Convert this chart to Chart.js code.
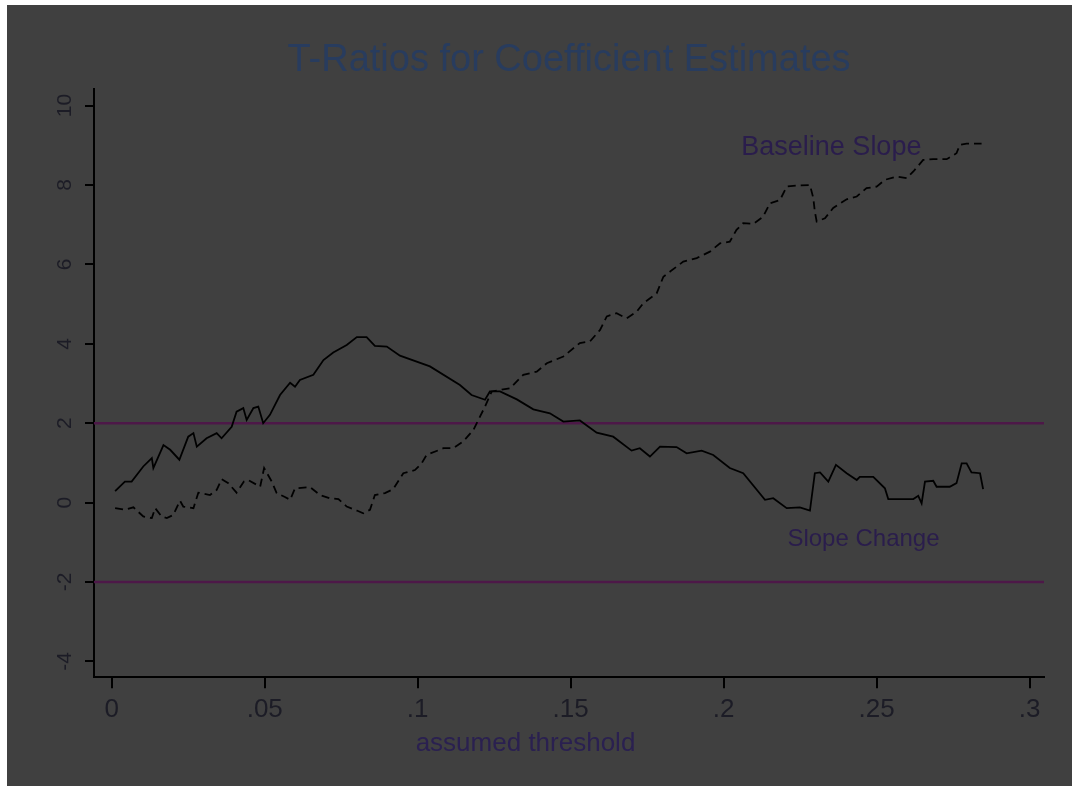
<!DOCTYPE html>
<html>
<head>
<meta charset="utf-8">
<title>T-Ratios for Coefficient Estimates</title>
<script src="https://cdn.jsdelivr.net/npm/chart.js@4.4.1/dist/chart.umd.min.js"></script>
<style>
  html, body { margin: 0; padding: 0; background: #fff; overflow: hidden; }
  #wrap { position: absolute; left: 7px; top: 5px; width: 1065px; height: 781px; background: #404040; }
  canvas { display: block; }
</style>
</head>
<body>
<div id="wrap"><canvas id="chart" width="1065" height="781"></canvas></div>
<script>
const chartTitle = "T-Ratios for Coefficient Estimates";
const xAxisTitle = "assumed threshold";

// axis ticks
const xTickValues = [0, 0.05, 0.1, 0.15, 0.2, 0.25, 0.3];
const xTickLabels = ["0", ".05", ".1", ".15", ".2", ".25", ".3"];
const yTickValues = [-4, -2, 0, 2, 4, 6, 8, 10];
const yTickLabels = ["-4", "-2", "0", "2", "4", "6", "8", "10"];
const xMin = -0.0058, xMax = 0.3047;
const yMin = -4.40, yMax = 10.41;

// critical t-ratio bands
const refLevels = [2, -2];

// Slope Change (solid)
const slopeChangeX = [
  .0011, .0043, .0065, .0103, .0131, .0136, .0169, .0191, .0221, .0250,
  .0267, .0278, .0310, .0343, .0359, .0392, .0408, .0430, .0441, .0463,
  .0479, .0495, .0517, .0550, .0583, .0599, .0615, .0659, .0692, .0724,
  .0768, .0801, .0833, .0860, .0899, .0942, .1040, .1138, .1176, .1220,
  .1236, .1269, .1324, .1378, .1432, .1476, .1530, .1585, .1639, .1699,
  .1726, .1759, .1792, .1846, .1879, .1928, .1966, .2020, .2064, .2135,
  .2162, .2206, .2249, .2282, .2298, .2315, .2342, .2367, .2402, .2435,
  .2445, .2489, .2527, .2538, .2620, .2636, .2647, .2658, .2685, .2696,
  .2739, .2761, .2778, .2794, .2810, .2838, .2848
];
const slopeChangeT = [
  0.29, 0.53, 0.53, 0.91, 1.12, 0.87, 1.45, 1.33, 1.08, 1.66,
  1.75, 1.41, 1.62, 1.75, 1.62, 1.91, 2.29, 2.38, 2.08, 2.38,
  2.42, 2.00, 2.21, 2.71, 3.02, 2.92, 3.09, 3.22, 3.59, 3.78,
  3.97, 4.17, 4.17, 3.95, 3.93, 3.70, 3.43, 2.96, 2.71, 2.59,
  2.80, 2.80, 2.60, 2.35, 2.25, 2.04, 2.07, 1.76, 1.66, 1.31,
  1.37, 1.16, 1.41, 1.40, 1.24, 1.31, 1.20, 0.87, 0.74, 0.07,
  0.11, -0.14, -0.12, -0.20, 0.74, 0.76, 0.53, 0.95, 0.74, 0.57,
  0.65, 0.65, 0.36, 0.09, 0.09, 0.17, -0.02, 0.53, 0.55, 0.40,
  0.40, 0.49, 0.99, 0.99, 0.76, 0.74, 0.34
];

// Baseline Slope (dashed)
const baselineX = [
  .0011, .0043, .0071, .0103, .0131, .0142, .0163, .0180, .0201, .0223,
  .0234, .0267, .0283, .0321, .0343, .0359, .0381, .0408, .0432, .0446,
  .0485, .0498, .0523, .0539, .0566, .0583, .0599, .0648, .0681, .0713,
  .0741, .0768, .0801, .0822, .0844, .0860, .0893, .0920, .0953, .0991,
  .1013, .1029, .1084, .1116, .1149, .1182, .1204, .1220, .1242, .1302,
  .1345, .1389, .1422, .1476, .1530, .1563, .1596, .1618, .1650, .1683,
  .1716, .1737, .1781, .1803, .1825, .1868, .1912, .1955, .1988, .2020,
  .2042, .2064, .2097, .2129, .2151, .2184, .2206, .2227, .2282, .2293,
  .2298, .2304, .2331, .2358, .2402, .2435, .2467, .2500, .2527, .2565,
  .2598, .2620, .2652, .2685, .2729, .2761, .2772, .2794, .2843
];
const baselineT = [
  -0.14, -0.18, -0.12, -0.35, -0.39, -0.14, -0.35, -0.39, -0.31, 0.05,
  -0.10, -0.14, 0.25, 0.19, 0.32, 0.59, 0.49, 0.25, 0.53, 0.57,
  0.40, 0.87, 0.53, 0.24, 0.14, 0.07, 0.36, 0.39, 0.19, 0.11,
  0.09, -0.10, -0.20, -0.27, -0.18, 0.19, 0.24, 0.34, 0.74, 0.82,
  0.99, 1.20, 1.37, 1.37, 1.54, 1.83, 2.17, 2.42, 2.80, 2.88,
  3.22, 3.30, 3.51, 3.68, 4.02, 4.06, 4.35, 4.69, 4.77, 4.64,
  4.81, 5.02, 5.27, 5.69, 5.82, 6.07, 6.16, 6.32, 6.53, 6.57,
  6.87, 7.04, 7.02, 7.20, 7.54, 7.62, 7.96, 7.98, 8.00, 7.67,
  7.33, 7.08, 7.16, 7.42, 7.64, 7.71, 7.92, 7.96, 8.13, 8.21,
  8.17, 8.34, 8.63, 8.65, 8.65, 8.80, 9.01, 9.04, 9.04
];

// in-plot series labels
const seriesLabels = ["Baseline Slope", "Slope Change"];
const seriesLabelX = [0.2352, 0.2457];
const seriesLabelY = [8.76, -1.09];
const seriesLabelSize = [27, 24];

const FONT = 'Arial, "Liberation Sans", sans-serif';
const toPoints = (xs, ys) => xs.map((x, i) => ({ x: x, y: ys[i] }));

// draws the two curve labels at data coordinates
const seriesLabelPlugin = {
  id: "seriesLabels",
  afterDatasetsDraw(chart) {
    const { ctx, scales: { x, y } } = chart;
    ctx.save();
    ctx.fillStyle = "#2a1d4c";
    ctx.textAlign = "center";
    ctx.textBaseline = "alphabetic";
    seriesLabels.forEach((txt, i) => {
      ctx.font = seriesLabelSize[i] + "px " + FONT;
      ctx.fillText(txt, x.getPixelForValue(seriesLabelX[i]), y.getPixelForValue(seriesLabelY[i]));
    });
    ctx.restore();
  }
};

const refSets = refLevels.map(lv => ({
  data: [{ x: xMin, y: lv }, { x: xMax, y: lv }],
  borderColor: "#4d1848",
  borderWidth: 2.5,
  pointRadius: 0
}));

new Chart(document.getElementById("chart"), {
  type: "line",
  data: {
    datasets: [
      {
        label: "Slope Change",
        data: toPoints(slopeChangeX, slopeChangeT),
        borderColor: "#000",
        borderWidth: 1.8,
        pointRadius: 0,
        tension: 0
      },
      {
        label: "Baseline Slope",
        data: toPoints(baselineX, baselineT),
        borderColor: "#000",
        borderWidth: 1.8,
        borderDash: [8, 5],
        pointRadius: 0,
        tension: 0
      },
      ...refSets
    ]
  },
  plugins: [seriesLabelPlugin],
  options: {
    responsive: false,
    devicePixelRatio: 1,
    animation: false,
    layout: { padding: { top: 0, right: 28, bottom: 0, left: 0 } },
    plugins: {
      legend: { display: false },
      tooltip: { enabled: false },
      title: {
        display: true,
        text: chartTitle,
        fullSize: false,
        color: "#283c5e",
        font: { family: FONT, size: 38, weight: "normal" },
        padding: { top: 33, bottom: 5.7 }
      },
      subtitle: {
        display: true,
        position: "bottom",
        text: xAxisTitle,
        color: "#2a2050",
        font: { family: FONT, size: 26, weight: "normal" },
        padding: { top: 10, bottom: 27 }
      }
    },
    scales: {
      x: {
        type: "linear",
        min: xMin,
        max: xMax,
        afterBuildTicks: (axis) => { axis.ticks = xTickValues.map(v => ({ value: v })); },
        afterFit: (axis) => { axis.height = 40.5; },
        ticks: {
          autoSkip: false,
          maxRotation: 0,
          padding: 6,
          color: "#1c1c26",
          font: { family: FONT, size: 26 },
          callback: (value, index) => xTickLabels[index]
        },
        grid: { drawOnChartArea: false, color: "#000", lineWidth: 2, tickLength: 11 },
        border: { color: "#000", width: 2 }
      },
      y: {
        type: "linear",
        min: yMin,
        max: yMax,
        afterBuildTicks: (axis) => { axis.ticks = yTickValues.map(v => ({ value: v })); },
        afterFit: (axis) => { axis.width = 87; },
        ticks: {
          autoSkip: false,
          minRotation: 90,
          maxRotation: 90,
          crossAlign: "center",
          padding: 8,
          color: "#1c1c26",
          font: { family: FONT, size: 21 },
          callback: (value, index) => yTickLabels[index]
        },
        grid: { drawOnChartArea: false, color: "#000", lineWidth: 2, tickLength: 9 },
        border: { color: "#000", width: 2 }
      }
    }
  }
});
</script>
</body>
</html>
